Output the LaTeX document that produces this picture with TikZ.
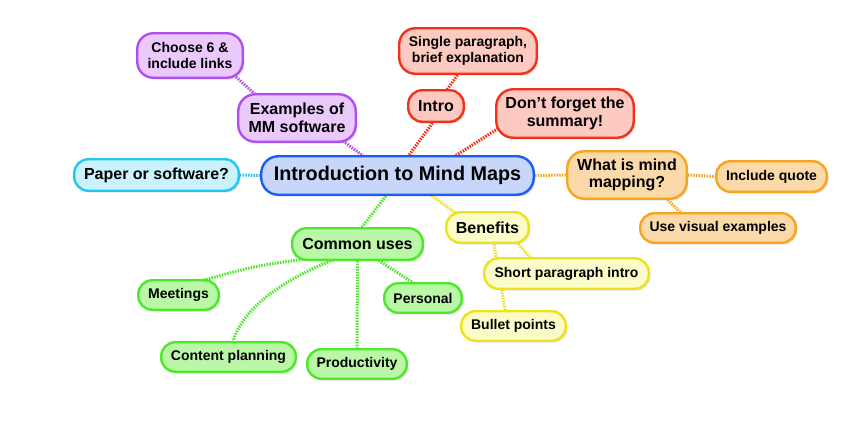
\documentclass[tikz,border=0pt]{standalone}
\usepackage{fontspec}
\setmainfont{Liberation Sans}
\usetikzlibrary{shadows,backgrounds}
\definecolor{bluedk}{RGB}{26,92,245}
\definecolor{bluelt}{RGB}{200,214,250}
\definecolor{cyandk}{RGB}{30,200,240}
\definecolor{cyanlt}{RGB}{202,243,253}
\definecolor{purpdk}{RGB}{178,78,240}
\definecolor{purplt}{RGB}{234,202,251}
\definecolor{reddk}{RGB}{245,48,24}
\definecolor{redlt}{RGB}{252,202,192}
\definecolor{orgdk}{RGB}{248,165,28}
\definecolor{orglt}{RGB}{252,217,168}
\definecolor{yeldk}{RGB}{238,226,26}
\definecolor{yellt}{RGB}{252,252,200}
\definecolor{grndk}{RGB}{76,232,42}
\definecolor{grnlt}{RGB}{186,248,168}
\tikzset{
  mm/.style={draw, line width=2.4pt, rounded corners=14pt, inner sep=0pt,
    align=center, text=black,
    font=\bfseries\fontsize{14}{15.5}\selectfont,
    drop shadow={opacity=0.22, shadow xshift=1.8pt, shadow yshift=-1.8pt}},
  lvlone/.style={font=\bfseries\fontsize{16}{17.5}\selectfont},
  sz/.style 2 args={minimum width=#1pt, minimum height=#2pt},
  cblue/.style={mm, draw=bluedk, fill=bluelt},
  ccyan/.style={mm, draw=cyandk, fill=cyanlt},
  cpurp/.style={mm, draw=purpdk, fill=purplt},
  cred/.style={mm, draw=reddk, fill=redlt},
  corg/.style={mm, draw=orgdk, fill=orglt},
  cyel/.style={mm, draw=yeldk, fill=yellt},
  cgrn/.style={mm, draw=grndk, fill=grnlt},
  link/.style={line width=3pt, dash pattern=on 1.5pt off 1.2pt}
}
\begin{document}
\begin{tikzpicture}[x=1pt,y=-1pt]
\useasboundingbox (0,0) rectangle (860,445);
% central
\node[cblue, sz={272.5}{38.5}, rounded corners=17pt, font=\bfseries\fontsize{19.8}{21}\selectfont] (central) at (397.5,175.5) {Introduction to Mind Maps};
% level 1
\node[ccyan, lvlone, sz={164.5}{31.5}] (paper) at (156.5,175) {Paper or software?};
\node[cpurp, lvlone, sz={117.5}{47.5}, rounded corners=17pt] (examples) at (297,118) {Examples of\\MM software};
\node[cred, lvlone, sz={55.5}{31.5}] (intro) at (436,106) {Intro};
\node[cred, lvlone, sz={137.5}{48.5}, rounded corners=17pt] (dont) at (565,113.5) {Don't forget the\\summary!};
\node[corg, lvlone, sz={119.5}{47.5}, rounded corners=17pt] (what) at (627,175) {What is mind\\mapping?};
\node[cyel, lvlone, sz={82.5}{30.5}] (benefits) at (487.5,227.5) {Benefits};
\node[cgrn, lvlone, sz={130.5}{31.5}] (common) at (357.5,244) {Common uses};
% level 2
\node[cpurp, sz={105.5}{44.5}, rounded corners=16pt] (choose) at (190,55.5) {Choose 6 \&\\include links};
\node[cred, sz={137.5}{45.5}, rounded corners=16pt] (single) at (468,51) {Single paragraph,\\brief explanation};
\node[corg, sz={110.5}{30.5}] (quote) at (771.5,176.5) {Include quote};
\node[corg, sz={155.5}{29.5}] (use) at (718,228) {Use visual examples};
\node[cyel, sz={164.5}{30.5}] (short) at (566.5,273.5) {Short paragraph intro};
\node[cyel, sz={104.5}{29.5}] (bullet) at (513.5,326) {Bullet points};
\node[cgrn, sz={80.5}{29.5}] (meetings) at (178.5,295) {Meetings};
\node[cgrn, sz={77.5}{29.5}] (personal) at (423,298) {Personal};
\node[cgrn, sz={134.5}{29.5}] (content) at (228.5,357) {Content planning};
\node[cgrn, sz={99.5}{29.5}] (productivity) at (357,364) {Productivity};
% connectors
\begin{scope}[on background layer]
\fill[white] (0,0) rectangle (860,445);
\draw[link, cyandk] (paper.east) -- (central.west);
\draw[link, purpdk] ([xshift=46pt,yshift=2pt]examples.south) -- ([xshift=-33pt,yshift=-2pt]central.north);
\draw[link, purpdk] ([xshift=46pt,yshift=2pt]choose.south) -- ([xshift=-41pt,yshift=-2pt]examples.north);
\draw[link, reddk] ([xshift=-2pt,yshift=2pt]intro.south) -- ([xshift=10pt,yshift=-2pt]central.north);
\draw[link, reddk] ([xshift=-9pt,yshift=2pt]single.south) -- ([xshift=10pt,yshift=-2pt]intro.north);
\draw[link, reddk] ([xshift=3pt,yshift=-15pt]dont.west) -- ([xshift=56pt,yshift=-2pt]central.north);
\draw[link, orgdk] (central.east) -- (what.west);
\draw[link, orgdk] (what.east) -- (quote.west);
\draw[link, orgdk] ([xshift=39pt,yshift=2pt]what.south) -- ([xshift=-36pt,yshift=-2pt]use.north);
\draw[link, yeldk] ([xshift=32pt,yshift=2pt]central.south) -- ([xshift=-32pt,yshift=-2pt]benefits.north);
\draw[link, yeldk] ([xshift=29pt,yshift=2pt]benefits.south) -- ([xshift=-35pt,yshift=-2pt]short.north);
\draw[link, yeldk] ([xshift=6pt,yshift=2pt]benefits.south) -- ([xshift=-8pt,yshift=-2pt]bullet.north);
\draw[link, grndk] ([xshift=-10pt,yshift=2pt]central.south) -- ([xshift=3pt,yshift=-2pt]common.north);
\draw[link, grndk] ([xshift=-52pt,yshift=2pt]common.south) .. controls (255,266) .. ([xshift=25pt,yshift=-1pt]meetings.north);
\draw[link, grndk] ([xshift=-22pt,yshift=2pt]common.south) .. controls (270,285) and (240,315) .. ([xshift=4pt,yshift=-2pt]content.north);
\draw[link, grndk] (common.south) -- (productivity.north);
\draw[link, grndk] ([xshift=19pt,yshift=2pt]common.south) -- ([xshift=-8pt,yshift=-2pt]personal.north);
\end{scope}
\end{tikzpicture}
\end{document}
